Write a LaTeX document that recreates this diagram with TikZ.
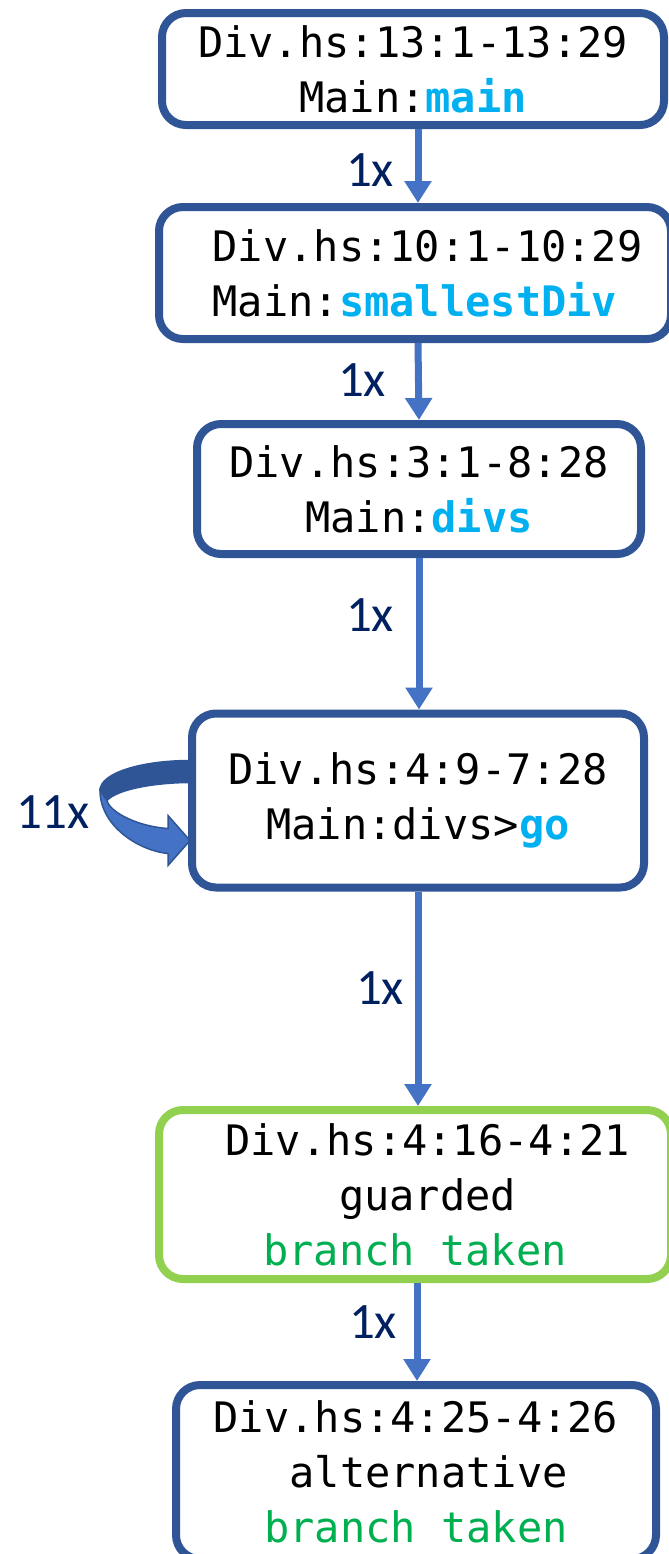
\documentclass[tikz,border=0pt]{standalone}
\usepackage{fontspec}
\setmonofont{DejaVu Sans Mono}
\newfontfamily\cntfont{Carlito}
\usetikzlibrary{arrows.meta}

\definecolor{boxblue}{HTML}{2F5597}
\definecolor{flowblue}{HTML}{4472C4}
\definecolor{cntnavy}{HTML}{002060}
\definecolor{fnblue}{HTML}{00B0F0}
\definecolor{takengreen}{HTML}{00B050}
\definecolor{guardgreen}{HTML}{92D050}

\newcommand{\fn}[1]{\textcolor{fnblue}{\bfseries #1}}
\newcommand{\taken}{\textcolor{takengreen}{branch taken}}
\newcommand{\pad}{\hspace*{0.602em}}

\tikzset{
  span/.style={draw=boxblue, line width=4pt, rounded corners=12pt, fill=white,
    align=center, inner sep=0pt, font=\ttfamily\fontsize{21}{27.5}\selectfont},
  flow/.style={draw=flowblue, line width=3.5pt, -{Triangle[width=13pt,length=11pt]}},
  count/.style={text=cntnavy, inner sep=0pt, font=\cntfont\fontsize{25.5}{30}\selectfont},
}

\begin{document}
\begin{tikzpicture}[x=0.5pt, y=-0.5pt]
    \useasboundingbox (0,0) rectangle (669,1554);

    % Caixas (uma por trecho do codigo)
    \node[span, minimum width=251pt, minimum height=56pt] (main) at (413,69)
      {Div.hs:13:1-13:29\\Main:\fn{main}};
    \node[span, minimum width=256pt, minimum height=66pt] (smallest) at (415,273)
      {\pad Div.hs:10:1-10:29\\Main:\fn{smallestDiv}};
    \node[span, minimum width=222pt, minimum height=65pt] (divs) at (419,489)
      {Div.hs:3:1-8:28\\Main:\fn{divs}};

    % Laco sobre go
    \begin{scope}[shift={(418,800.5)}, xshift=-115pt, draw=boxblue, line width=0.75pt]
      \filldraw[fill=boxblue] (2,-40) .. controls (-45,-40) and (-88,-28) .. (-88,-10)
        -- (-81,0) .. controls (-70,-12) and (-30,-18) .. (2,-18) -- cycle;
      \filldraw[fill=flowblue] (-88,-10) .. controls (-88,25) and (-50,50) .. (-20,53)
        -- (-20,65) -- (2,40) -- (-20,15) -- (-20,28)
        .. controls (-50,26) and (-78,12) .. (-81,0) -- cycle;
    \end{scope}

    \node[span, minimum width=226pt, minimum height=87pt] (go) at (418,800.5)
      {Div.hs:4:9-7:28\\Main:divs>\fn{go}};
    \node[span, draw=guardgreen, minimum width=256pt, minimum height=84.5pt] (guard) at (415,1194.5)
      {\pad Div.hs:4:16-4:21\\\pad guarded\\\taken};
    \node[span, minimum width=240pt, minimum height=87pt] (alt) at (416,1472)
      {Div.hs:4:25-4:26\\\pad alternative\\\taken};

    % Setas
    \draw[flow] ([xshift=2.5pt]main.south) -- ([xshift=1.5pt]smallest.north);
    \draw[flow] ([xshift=1.5pt]smallest.south) -- (divs.north);
    \draw[flow] (divs.south) -- ([xshift=0.5pt]go.north);
    \draw[flow] (go.south) -- ([xshift=1.5pt]guard.north);
    \draw[flow] ([xshift=1pt]guard.south) -- ([xshift=0.5pt]alt.north);

    % Contagens
    \node[count] (c1) at (370,170) {1x};
    \node[count] (c2) at (362,380) {1x};
    \node[count] (c3) at (370,615) {1x};
    \node[count] (c4) at (380,988) {1x};
    \node[count] (c5) at (373,1322) {1x};
    \node[count] (cloop) at (53,812) {11x};
\end{tikzpicture}
\end{document}
